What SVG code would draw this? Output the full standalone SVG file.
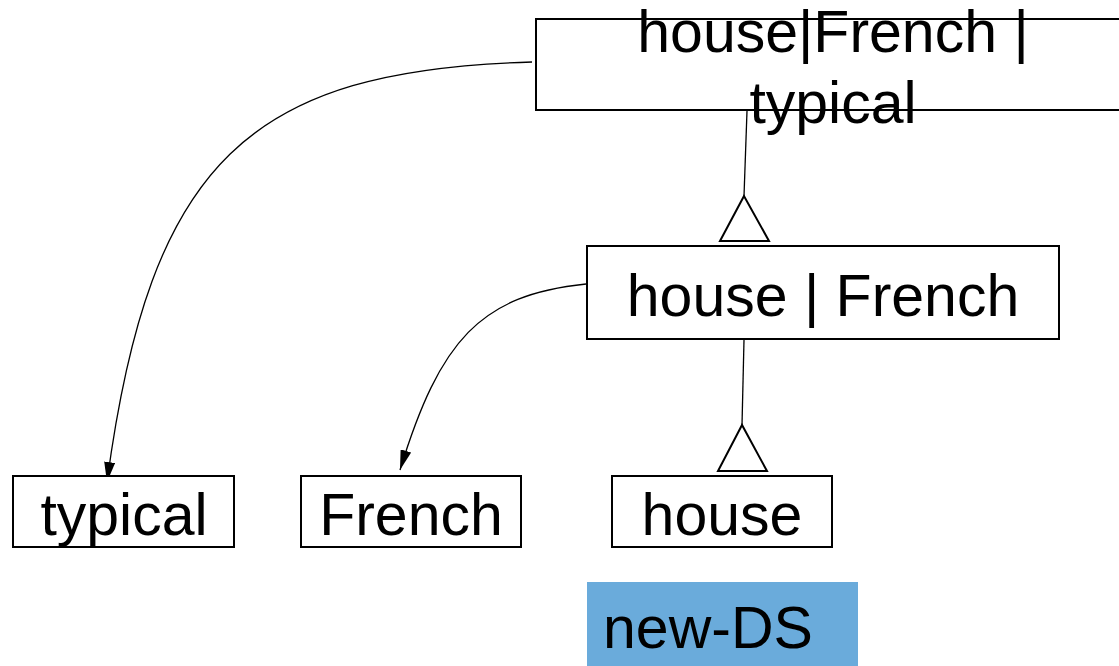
<svg xmlns="http://www.w3.org/2000/svg" width="1119" height="666" viewBox="0 0 1119 666">
  <defs>
    <style>
      .box { fill: #ffffff; stroke: #000000; stroke-width: 2; }
      .lbl { font-family: "Liberation Sans", Arial, sans-serif; font-size: 59px; fill: #000000; }
      .edge { fill: none; stroke: #000000; stroke-width: 1.3; }
      .tri { fill: #ffffff; stroke: #000000; stroke-width: 2; }
    </style>
    <marker id="arrow" viewBox="0 0 20 11" refX="20" refY="5.5" markerWidth="20" markerHeight="11" markerUnits="userSpaceOnUse" orient="auto" preserveAspectRatio="none">
      <path d="M0,0 L20,5.5 L0,11 z" fill="#000000"/>
    </marker>
  </defs>

  <rect width="1119" height="666" fill="#ffffff"/>

  <!-- connectors -->
  <g id="connectors">
    <path class="edge" d="M532,62 C250,70 150,160 107,482" marker-end="url(#arrow)"/>
    <path class="edge" d="M586,284 C480,295 440,340 400,470" marker-end="url(#arrow)"/>
    <line class="edge" x1="747" y1="111" x2="744" y2="196"/>
    <polygon class="tri" points="744,196 720,241 769,241"/>
    <line class="edge" x1="744" y1="340" x2="742" y2="425"/>
    <polygon class="tri" points="742,425 718,471 767,471"/>
  </g>

  <g id="node-house-french-typical">
    <rect class="box" x="536" y="19" width="600" height="91"/>
    <text class="lbl" x="833" y="52" text-anchor="middle">house|French |</text>
    <text class="lbl" x="833" y="123" text-anchor="middle">typical</text>
  </g>

  <g id="node-house-french">
    <rect class="box" x="587" y="246" width="472" height="93"/>
    <text class="lbl" x="823" y="316" text-anchor="middle">house | French</text>
  </g>

  <g id="node-typical">
    <rect class="box" x="13" y="476" width="221" height="71"/>
    <text class="lbl" x="124" y="535" text-anchor="middle">typical</text>
  </g>

  <g id="node-french">
    <rect class="box" x="301" y="476" width="220" height="71"/>
    <text class="lbl" x="411" y="535" text-anchor="middle">French</text>
  </g>

  <g id="node-house">
    <rect class="box" x="612" y="476" width="220" height="71"/>
    <text class="lbl" x="722" y="535" text-anchor="middle">house</text>
  </g>

  <g id="node-new-ds">
    <rect x="587" y="582" width="271" height="84" fill="#6aabdb"/>
    <text class="lbl" x="603" y="648">new-DS</text>
  </g>
</svg>
